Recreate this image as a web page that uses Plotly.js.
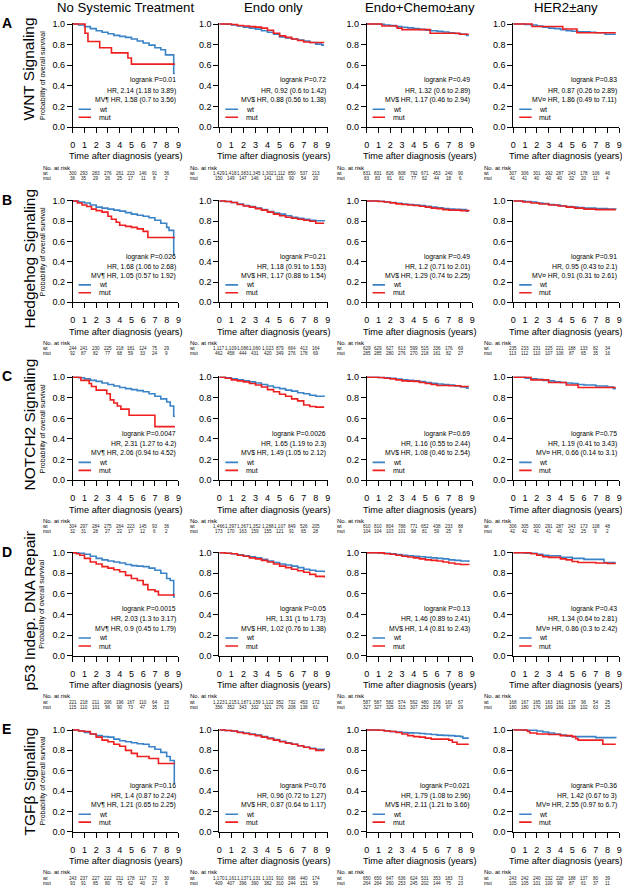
<!DOCTYPE html>
<html>
<head>
<meta charset="utf-8">
<script src="https://cdn.plot.ly/plotly-3.0.1.min.js"></script>
<style>
  body { margin: 0; background: #fff; }
  #km { width: 622px; height: 886px; }
</style>
</head>
<body>
<div id="km"></div>
<script>
// column / row headings
var colTitles = ['No Systemic Treatment', 'Endo only', 'Endo+Chemo±any', 'HER2±any'];
var rowLabels = ['WNT Signaling', 'Hedgehog Signaling', 'NOTCH2 Signaling', 'p53 Indep. DNA Repair', 'TGFβ Signaling'];
var panelLetters = ['A', 'B', 'C', 'D', 'E'];
var xTicks = [0, 1, 2, 3, 4, 5, 6, 7, 8, 9];
var riskTimes = [0, 1, 2, 3, 4, 5, 6, 7, 8];

// KM curves, [time (years), survival]
var A1_wt = [[0,1],[0.5,0.99],[1,0.975],[1.5,0.955],[2,0.935],[2.5,0.92],[3,0.905],[3.5,0.89],[4,0.88],[4.5,0.87],[5,0.855],[5.5,0.835],[6,0.815],[6.5,0.795],[7,0.77],[7.5,0.75],[7.9,0.70],[8.6,0.52],[8.7,0.52]];
var A1_mut = [[0,1],[1.05,0.91],[1.3,0.83],[2.3,0.77],[3.3,0.72],[4.7,0.67],[5.0,0.61],[8.7,0.61]];
var A2_wt = [[0,1],[0.5,0.997],[1,0.99],[1.5,0.98],[2,0.97],[2.5,0.96],[3,0.95],[3.5,0.935],[4,0.92],[4.5,0.90],[5,0.875],[5.5,0.865],[6,0.855],[6.5,0.845],[7,0.835],[7.5,0.82],[8,0.805],[8.5,0.795],[8.7,0.795]];
var A2_mut = [[0,1],[1,0.995],[1.5,0.985],[2,0.98],[2.5,0.975],[3,0.97],[3.5,0.96],[4,0.94],[4.5,0.91],[5,0.885],[5.5,0.87],[6,0.855],[6.5,0.84],[7,0.825],[7.5,0.82],[8.7,0.82]];
var A3_wt = [[0,1],[1,0.998],[1.5,0.99],[2,0.985],[2.5,0.975],[3,0.968],[3.5,0.962],[4,0.955],[4.5,0.948],[5,0.94],[5.5,0.935],[6,0.928],[6.5,0.922],[7,0.915],[7.5,0.908],[8,0.90],[8.5,0.89],[8.7,0.89]];
var A3_mut = [[0,1],[1.3,0.98],[2.6,0.96],[3.0,0.945],[5.4,0.91],[7.9,0.90],[8.7,0.90]];
var A4_wt = [[0,1],[1,0.995],[1.5,0.99],[2,0.98],[2.5,0.97],[3,0.96],[3.5,0.955],[4,0.945],[4.5,0.935],[5,0.93],[5.5,0.925],[6.5,0.92],[7,0.915],[7.8,0.90],[8.7,0.90]];
var A4_mut = [[0,1],[1.6,0.976],[4.2,0.952],[5.4,0.915],[8.7,0.915]];

var B1_wt = [[0,1],[0.5,0.99],[1,0.98],[1.5,0.96],[2,0.94],[2.5,0.93],[3,0.92],[3.5,0.91],[4,0.90],[4.5,0.885],[5,0.87],[5.5,0.86],[6,0.85],[6.5,0.835],[7,0.81],[7.5,0.78],[8,0.74],[8.2,0.71],[8.6,0.47],[8.7,0.47]];
var B1_mut = [[0,1],[0.4,0.98],[0.8,0.96],[1.2,0.945],[1.6,0.92],[2,0.905],[2.5,0.89],[3,0.85],[3.3,0.82],[3.7,0.79],[4,0.76],[4.5,0.75],[5,0.74],[5.5,0.725],[6,0.70],[6.4,0.64],[8.7,0.64]];
var B2_wt = [[0,1],[0.5,0.995],[1,0.985],[1.5,0.97],[2,0.955],[2.5,0.945],[3,0.93],[3.5,0.915],[4,0.895],[4.5,0.88],[5,0.87],[5.5,0.855],[6,0.84],[6.5,0.83],[7,0.82],[7.5,0.81],[8,0.805],[8.7,0.80]];
var B2_mut = [[0,1],[0.5,0.995],[1,0.985],[1.5,0.965],[2,0.95],[2.5,0.94],[3,0.925],[3.5,0.91],[4,0.89],[4.5,0.87],[5,0.855],[5.5,0.84],[6,0.83],[6.5,0.82],[7,0.81],[7.5,0.80],[8,0.78],[8.7,0.78]];
var B3_wt = [[0,1],[1,0.998],[1.5,0.99],[2,0.985],[2.5,0.978],[3,0.97],[3.5,0.965],[4,0.96],[4.5,0.955],[5,0.948],[5.5,0.94],[6,0.932],[6.5,0.925],[7,0.92],[7.5,0.918],[8,0.915],[8.5,0.90],[8.7,0.90]];
var B3_mut = [[0,1],[1,0.995],[1.5,0.99],[2,0.982],[2.5,0.972],[3,0.965],[3.5,0.96],[4,0.955],[4.5,0.948],[5,0.94],[5.5,0.93],[6,0.925],[6.5,0.915],[7,0.91],[8,0.905],[8.7,0.90]];
var B4_wt = [[0,1],[1,0.995],[1.5,0.99],[2,0.98],[2.5,0.975],[3,0.965],[3.5,0.96],[4,0.95],[4.5,0.945],[5,0.94],[5.5,0.935],[6,0.93],[7,0.925],[8,0.92],[8.7,0.915]];
var B4_mut = [[0,1],[0.8,0.99],[1.5,0.98],[2.2,0.97],[3,0.96],[3.8,0.95],[4.5,0.94],[5.2,0.93],[6,0.92],[7,0.915],[8.7,0.915]];

var C1_wt = [[0,1],[0.5,0.995],[1,0.985],[1.5,0.97],[2,0.96],[2.5,0.945],[3,0.93],[3.5,0.915],[4,0.90],[4.5,0.89],[5,0.88],[5.5,0.87],[6,0.86],[6.5,0.84],[7,0.815],[7.5,0.79],[8,0.76],[8.3,0.72],[8.6,0.62],[8.7,0.62]];
var C1_mut = [[0,1],[0.7,0.97],[1.4,0.94],[1.6,0.91],[2,0.875],[2.9,0.84],[3.2,0.78],[3.5,0.75],[3.8,0.72],[4.1,0.69],[4.8,0.63],[7.0,0.52],[8.7,0.52]];
var C2_wt = [[0,1],[0.5,0.995],[1,0.985],[1.5,0.975],[2,0.965],[2.5,0.955],[3,0.945],[3.5,0.93],[4,0.915],[4.5,0.90],[5,0.89],[5.5,0.875],[6,0.865],[6.5,0.85],[7,0.84],[7.5,0.825],[8,0.815],[8.7,0.81]];
var C2_mut = [[0,1],[0.5,0.99],[1,0.975],[1.5,0.965],[2,0.955],[2.5,0.94],[3,0.925],[3.5,0.905],[4,0.88],[4.5,0.86],[5,0.835],[5.5,0.815],[6,0.79],[6.5,0.77],[7,0.73],[7.5,0.715],[8,0.71],[8.7,0.71]];
var C3_wt = [[0,1],[1,0.998],[1.5,0.995],[2,0.99],[2.5,0.982],[3,0.975],[3.5,0.97],[4,0.965],[4.5,0.958],[5,0.95],[5.5,0.942],[6,0.935],[6.5,0.93],[7,0.925],[7.5,0.915],[8,0.905],[8.5,0.895],[8.7,0.895]];
var C3_mut = [[0,1],[1,0.998],[1.5,0.99],[2,0.985],[2.5,0.975],[3,0.965],[3.5,0.963],[4,0.96],[4.5,0.95],[5,0.94],[5.5,0.93],[6,0.92],[7,0.918],[8,0.91],[8.7,0.91]];
var C4_wt = [[0,1],[1,0.99],[1.5,0.985],[2,0.98],[2.5,0.97],[3,0.965],[3.5,0.955],[4,0.95],[4.5,0.945],[5,0.94],[5.5,0.93],[6,0.925],[7,0.915],[8,0.905],[8.5,0.89],[8.7,0.89]];
var C4_mut = [[0,1],[1.5,0.975],[3,0.95],[4.5,0.925],[5.5,0.90],[8.7,0.90]];

var D1_wt = [[0,1],[0.5,0.995],[1,0.985],[1.5,0.965],[2,0.945],[2.5,0.93],[3,0.92],[3.5,0.91],[4,0.90],[4.5,0.885],[5,0.875],[5.5,0.87],[6,0.865],[6.5,0.85],[7,0.83],[7.5,0.80],[8,0.75],[8.3,0.73],[8.6,0.57],[8.7,0.57]];
var D1_mut = [[0,1],[0.3,0.99],[0.6,0.975],[1,0.945],[1.5,0.91],[2,0.89],[2.5,0.865],[3,0.85],[3.5,0.835],[4,0.815],[4.5,0.78],[5,0.75],[5.5,0.73],[6,0.69],[6.4,0.64],[7,0.625],[7.3,0.59],[8.7,0.59]];
var D2_wt = [[0,1],[0.5,0.995],[1,0.99],[1.5,0.98],[2,0.97],[2.5,0.96],[3,0.95],[3.5,0.935],[4,0.92],[4.5,0.905],[5,0.89],[5.5,0.88],[6,0.87],[6.5,0.855],[7,0.84],[7.5,0.83],[8,0.82],[8.7,0.81]];
var D2_mut = [[0,1],[0.5,0.995],[1,0.99],[1.5,0.975],[2,0.965],[2.5,0.95],[3,0.94],[3.5,0.925],[4,0.91],[4.5,0.89],[5,0.87],[5.5,0.855],[6,0.84],[6.5,0.825],[7,0.81],[7.5,0.79],[8,0.77],[8.7,0.76]];
var D3_wt = [[0,1],[1,0.998],[1.5,0.995],[2,0.99],[2.5,0.982],[3,0.975],[3.5,0.97],[4,0.965],[4.5,0.96],[5,0.955],[5.5,0.95],[6,0.945],[6.5,0.94],[7,0.93],[7.5,0.925],[8,0.92],[8.7,0.91]];
var D3_mut = [[0,1],[1,0.998],[1.5,0.99],[2,0.985],[2.5,0.975],[3,0.965],[3.5,0.958],[4,0.95],[4.5,0.94],[5,0.93],[5.5,0.925],[6,0.92],[6.5,0.91],[7,0.90],[7.5,0.89],[8,0.885],[8.7,0.88]];
var D4_wt = [[0,1],[1,0.995],[2,0.985],[2.5,0.975],[3,0.97],[4,0.955],[5,0.945],[6,0.935],[7.7,0.905],[8.7,0.905]];
var D4_mut = [[0,1],[1.5,0.99],[2,0.975],[2.5,0.96],[3,0.955],[4,0.94],[4.5,0.93],[5,0.915],[5.5,0.905],[7,0.90],[8,0.895],[8.7,0.895]];

var E1_wt = [[0,1],[0.5,0.99],[1,0.975],[1.5,0.96],[2,0.945],[2.5,0.935],[3,0.93],[3.5,0.91],[4,0.895],[4.5,0.885],[5,0.875],[5.5,0.865],[6,0.86],[6.5,0.835],[7,0.81],[7.5,0.78],[8,0.74],[8.3,0.70],[8.65,0.48],[8.7,0.48]];
var E1_mut = [[0,1],[0.5,0.99],[1,0.985],[1.5,0.96],[2,0.93],[2.5,0.90],[3,0.885],[3.5,0.86],[4,0.84],[4.5,0.80],[5,0.77],[5.5,0.74],[6.5,0.72],[7.3,0.67],[8.7,0.67]];
var E2_wt = [[0,1],[0.5,0.995],[1,0.99],[1.5,0.98],[2,0.97],[2.5,0.96],[3,0.95],[3.5,0.935],[4,0.92],[4.5,0.905],[5,0.89],[5.5,0.875],[6,0.86],[6.5,0.845],[7,0.83],[7.5,0.82],[8,0.81],[8.7,0.80]];
var E2_mut = [[0,1],[0.5,0.995],[1,0.99],[1.5,0.975],[2,0.965],[2.5,0.955],[3,0.945],[3.5,0.93],[4,0.915],[4.5,0.90],[5,0.885],[5.5,0.87],[6,0.86],[6.5,0.845],[7,0.83],[7.5,0.815],[8,0.80],[8.7,0.80]];
var E3_wt = [[0,1],[1,0.998],[1.5,0.992],[2,0.985],[2.5,0.98],[3,0.975],[3.5,0.972],[4,0.97],[4.5,0.965],[5,0.96],[5.5,0.955],[6,0.95],[6.5,0.947],[7,0.945],[7.5,0.94],[8,0.935],[8.2,0.92],[8.7,0.92]];
var E3_mut = [[0,1],[1,0.998],[1.5,0.99],[2,0.985],[2.5,0.975],[3,0.96],[3.5,0.945],[4,0.935],[4.5,0.93],[5,0.92],[5.5,0.91],[7,0.90],[7.3,0.88],[7.7,0.86],[8.7,0.86]];
var E4_wt = [[0,1],[1,0.998],[2,0.99],[2.5,0.98],[3,0.97],[3.5,0.96],[4,0.95],[4.5,0.94],[5,0.935],[6,0.935],[7,0.925],[8,0.925],[8.7,0.92]];
var E4_mut = [[0,1],[1.2,0.985],[1.4,0.97],[2,0.96],[3,0.955],[4,0.945],[5,0.935],[5.3,0.915],[5.5,0.90],[7.6,0.86],[8.7,0.86]];

// numbers at risk at years 0..8
var A1_risk_wt = ['300','293','283','276','261','223','146','91','36'];
var A1_risk_mut = ['36','35','29','26','25','17','11','8','2'];
var A2_risk_wt = ['1,429','1,418','1,383','1,345','1,302','1,112','850','537','213'];
var A2_risk_mut = ['150','149','147','146','141','116','90','54','20'];
var A3_risk_wt = ['831','831','826','808','792','671','453','240','90'];
var A3_risk_mut = ['83','83','81','81','77','62','44','18','6'];
var A4_risk_wt = ['307','306','301','292','287','243','178','106','46'];
var A4_risk_mut = ['41','41','40','40','40','32','20','11','4'];
var B1_risk_wt = ['244','241','230','225','218','181','124','75','29'];
var B1_risk_mut = ['92','87','82','77','68','59','33','24','9'];
var B2_risk_wt = ['1,117','1,109','1,086','1,060','1,023','879','664','413','164'];
var B2_risk_mut = ['462','458','444','431','420','349','276','178','69'];
var B3_risk_wt = ['629','629','627','613','599','515','336','176','69'];
var B3_risk_mut = ['285','285','280','276','270','218','161','82','27'];
var B4_risk_wt = ['235','233','231','225','221','188','133','82','34'];
var B4_risk_mut = ['113','112','110','107','106','87','65','35','16'];
var C1_risk_wt = ['304','297','284','275','264','223','145','93','36'];
var C1_risk_mut = ['32','31','28','27','22','17','12','6','2'];
var C2_risk_wt = ['1,466','1,397','1,367','1,352','1,288','1,107','849','526','205'];
var C2_risk_mut = ['173','170','163','159','155','121','91','65','28'];
var C3_risk_wt = ['810','810','804','788','771','652','438','233','88'];
var C3_risk_mut = ['104','104','103','101','98','81','59','25','8'];
var C4_risk_wt = ['306','305','300','291','287','243','173','108','48'];
var C4_risk_mut = ['42','42','41','41','40','32','25','9','2'];
var D1_risk_wt = ['221','218','211','206','196','167','110','64','26'];
var D1_risk_mut = ['115','110','101','96','90','73','47','35','12'];
var D2_risk_wt = ['1,223','1,215','1,187','1,159','1,122','952','732','453','172'];
var D2_risk_mut = ['356','352','343','332','321','276','208','138','61'];
var D3_risk_wt = ['587','587','582','574','562','480','318','161','67'];
var D3_risk_mut = ['327','327','325','315','307','253','179','97','29'];
var D4_risk_wt = ['168','167','165','163','161','137','96','54','25'];
var D4_risk_mut = ['180','180','176','169','166','138','102','63','25'];
var E1_risk_wt = ['243','237','227','222','211','178','117','72','30'];
var E1_risk_mut = ['93','91','85','80','75','62','40','27','8'];
var E2_risk_wt = ['1,170','1,161','1,137','1,131','1,101','910','696','440','174'];
var E2_risk_mut = ['409','407','396','390','382','310','244','151','59'];
var E3_risk_wt = ['650','650','647','636','624','531','353','183','73'];
var E3_risk_mut = ['264','264','260','253','245','202','144','75','23'];
var E4_risk_wt = ['243','242','240','232','228','188','137','80','39'];
var E4_risk_mut = ['105','105','101','100','99','87','61','37','11'];

// logrank / HR text per panel
var A1_stats = ['logrank P=0.01', 'HR, 2.14 (1.18 to 3.89)', 'MV¶ HR, 1.58 (0.7 to 3.56)'];
var A2_stats = ['logrank P=0.72', 'HR, 0.92 (0.6 to 1.42)', 'MV$ HR, 0.88 (0.56 to 1.38)'];
var A3_stats = ['logrank P=0.49', 'HR, 1.32 (0.6 to 2.89)', 'MV$ HR, 1.17 (0.46 to 2.94)'];
var A4_stats = ['logrank P=0.83', 'HR, 0.87 (0.26 to 2.89)', 'MV¤ HR, 1.86 (0.49 to 7.11)'];
var B1_stats = ['logrank P=0.026', 'HR, 1.68 (1.06 to 2.68)', 'MV¶ HR, 1.05 (0.57 to 1.92)'];
var B2_stats = ['logrank P=0.21', 'HR, 1.18 (0.91 to 1.53)', 'MV$ HR, 1.17 (0.88 to 1.54)'];
var B3_stats = ['logrank P=0.49', 'HR, 1.2 (0.71 to 2.01)', 'MV$ HR, 1.29 (0.74 to 2.25)'];
var B4_stats = ['logrank P=0.91', 'HR, 0.95 (0.43 to 2.1)', 'MV¤ HR, 0.91 (0.31 to 2.61)'];
var C1_stats = ['logrank P=0.0047', 'HR, 2.31 (1.27 to 4.2)', 'MV¶ HR, 2.06 (0.94 to 4.52)'];
var C2_stats = ['logrank P=0.0026', 'HR, 1.65 (1.19 to 2.3)', 'MV$ HR, 1.49 (1.05 to 2.12)'];
var C3_stats = ['logrank P=0.69', 'HR, 1.16 (0.55 to 2.44)', 'MV$ HR, 1.08 (0.46 to 2.54)'];
var C4_stats = ['logrank P=0.75', 'HR, 1.19 (0.41 to 3.43)', 'MV¤ HR, 0.66 (0.14 to 3.1)'];
var D1_stats = ['logrank P=0.0015', 'HR, 2.03 (1.3 to 3.17)', 'MV¶ HR, 0.9 (0.45 to 1.79)'];
var D2_stats = ['logrank P=0.05', 'HR, 1.31 (1 to 1.73)', 'MV$ HR, 1.02 (0.76 to 1.38)'];
var D3_stats = ['logrank P=0.13', 'HR, 1.46 (0.89 to 2.41)', 'MV$ HR, 1.4 (0.81 to 2.43)'];
var D4_stats = ['logrank P=0.43', 'HR, 1.34 (0.64 to 2.81)', 'MV¤ HR, 0.86 (0.3 to 2.42)'];
var E1_stats = ['logrank P=0.16', 'HR, 1.4 (0.87 to 2.24)', 'MV¶ HR, 1.21 (0.65 to 2.25)'];
var E2_stats = ['logrank P=0.76', 'HR, 0.96 (0.72 to 1.27)', 'MV$ HR, 0.87 (0.64 to 1.17)'];
var E3_stats = ['logrank P=0.021', 'HR, 1.79 (1.08 to 2.96)', 'MV$ HR, 2.11 (1.21 to 3.66)'];
var E4_stats = ['logrank P=0.36', 'HR, 1.42 (0.67 to 3)', 'MV¤ HR, 2.55 (0.97 to 6.7)'];

var panels = [
  [A1_wt, A1_mut, A1_risk_wt, A1_risk_mut, A1_stats], [A2_wt, A2_mut, A2_risk_wt, A2_risk_mut, A2_stats],
  [A3_wt, A3_mut, A3_risk_wt, A3_risk_mut, A3_stats], [A4_wt, A4_mut, A4_risk_wt, A4_risk_mut, A4_stats],
  [B1_wt, B1_mut, B1_risk_wt, B1_risk_mut, B1_stats], [B2_wt, B2_mut, B2_risk_wt, B2_risk_mut, B2_stats],
  [B3_wt, B3_mut, B3_risk_wt, B3_risk_mut, B3_stats], [B4_wt, B4_mut, B4_risk_wt, B4_risk_mut, B4_stats],
  [C1_wt, C1_mut, C1_risk_wt, C1_risk_mut, C1_stats], [C2_wt, C2_mut, C2_risk_wt, C2_risk_mut, C2_stats],
  [C3_wt, C3_mut, C3_risk_wt, C3_risk_mut, C3_stats], [C4_wt, C4_mut, C4_risk_wt, C4_risk_mut, C4_stats],
  [D1_wt, D1_mut, D1_risk_wt, D1_risk_mut, D1_stats], [D2_wt, D2_mut, D2_risk_wt, D2_risk_mut, D2_stats],
  [D3_wt, D3_mut, D3_risk_wt, D3_risk_mut, D3_stats], [D4_wt, D4_mut, D4_risk_wt, D4_risk_mut, D4_stats],
  [E1_wt, E1_mut, E1_risk_wt, E1_risk_mut, E1_stats], [E2_wt, E2_mut, E2_risk_wt, E2_risk_mut, E2_stats],
  [E3_wt, E3_mut, E3_risk_wt, E3_risk_mut, E3_stats], [E4_wt, E4_mut, E4_risk_wt, E4_risk_mut, E4_stats]
];

// page geometry in pixels
var W = 622, H = 886;
var colPx = [[72.7, 178.4], [219.3, 327.8], [366.7, 472.3], [513.3, 619.3]];   // x of 0 and 9 yrs
var rowPx = [[24, 127], [201, 302.3], [377.3, 480], [552.7, 655.7], [730, 831.7]]; // y of 1.0 and 0.0
var rowLabelY = [69, 259, 425, 611, 782];
var YMAX = 1.01;
var BLUE = '#3a83c6', RED = '#ee1f1f';
var FONT = 'Liberation Sans, Arial, Helvetica, sans-serif';

function px(x) { return x / W; }
function py(y) { return 1 - y / H; }

var data = [];
var layout = {
  width: W, height: H,
  margin: {l: 0, r: 0, t: 0, b: 0},
  paper_bgcolor: '#fff', plot_bgcolor: '#fff',
  showlegend: false,
  font: {family: FONT, color: '#000'},
  annotations: [], shapes: []
};
var ann = layout.annotations;

function text(t, x, y, size, extra) {
  var a = {text: t, x: x, y: y, xref: 'paper', yref: 'paper', showarrow: false,
           xanchor: 'center', yanchor: 'middle', font: {family: FONT, size: size, color: '#000'}};
  for (var k in extra) a[k] = extra[k];
  ann.push(a);
}

panels.forEach(function (p, i) {
  var r = Math.floor(i / 4), c = i % 4, n = i + 1;
  var sfx = n === 1 ? '' : String(n);
  var xa = 'x' + sfx, ya = 'y' + sfx;
  var x0 = colPx[c][0], x1 = colPx[c][1];
  var yt = rowPx[r][0], yb = rowPx[r][1];
  var topPx = yt - (YMAX - 1) * (yb - yt);

  var axisBase = {showline: true, linecolor: '#000', linewidth: 1, ticks: 'outside', ticklen: 5,
                  tickwidth: 1, tickcolor: '#000', showgrid: false, zeroline: false, fixedrange: true,
                  tickfont: {family: FONT, size: 9, color: '#000'}};
  layout['xaxis' + sfx] = Object.assign({}, axisBase, {
    domain: [px(x0), px(x1)], range: [0, 9], anchor: ya, tickvals: xTicks, ticklabelstandoff: 4
  });
  layout['yaxis' + sfx] = Object.assign({}, axisBase, {
    domain: [py(yb), py(topPx)], range: [0, YMAX], anchor: xa,
    tickvals: [0, 0.2, 0.4, 0.6, 0.8, 1.0], tickformat: '.1f'
  });

  [[p[0], BLUE], [p[1], RED]].forEach(function (s) {
    data.push({
      x: s[0].map(function (d) { return d[0]; }),
      y: s[0].map(function (d) { return d[1]; }),
      xaxis: xa, yaxis: ya, type: 'scatter', mode: 'lines',
      line: {color: s[1], width: 1.6, shape: 'hv'}, hoverinfo: 'skip'
    });
  });

  // stats text, right aligned at the end of the axis
  [0.452, 0.352, 0.262].forEach(function (yy, j) {
    ann.push({text: p[4][j], x: 9, y: yy, xref: xa, yref: ya, showarrow: false,
              xanchor: 'right', yanchor: 'middle', font: {family: FONT, size: 6.8, color: '#000'}});
  });

  // legend
  [['wt', BLUE, 0.172], ['mut', RED, 0.094]].forEach(function (l) {
    layout.shapes.push({type: 'line', xref: xa, yref: ya, x0: 0.5, x1: 1.56, y0: l[2], y1: l[2],
                        line: {color: l[1], width: 1.6}});
    ann.push({text: l[0], x: 2.05, y: l[2], xref: xa, yref: ya, showarrow: false,
              xanchor: 'left', yanchor: 'middle', font: {family: FONT, size: 7, color: '#000'}});
  });

  // axis title
  text('Time after diagnosis (years)', px((x0 + x1) / 2), py(yb + 29.5), 9.2);

  // risk table
  text('No. at risk', px(x0 - 31.5), py(yb + 40.5), 6, {xanchor: 'left'});
  text('wt', px(x0 - 31.5), py(yb + 46.5), 4.6, {xanchor: 'left'});
  text('mut', px(x0 - 31.5), py(yb + 51.5), 4.6, {xanchor: 'left'});
  riskTimes.forEach(function (t, j) {
    ann.push({text: p[2][j], x: t, y: py(yb + 46.5), xref: xa, yref: 'paper', showarrow: false,
              xanchor: 'center', yanchor: 'middle', font: {family: FONT, size: 4.6, color: '#222'}});
    ann.push({text: p[3][j], x: t, y: py(yb + 51.5), xref: xa, yref: 'paper', showarrow: false,
              xanchor: 'center', yanchor: 'middle', font: {family: FONT, size: 4.6, color: '#222'}});
  });

  if (r === 0) text(colTitles[c], px((x0 + x1) / 2), py(8), 13.2);
  if (c === 0) {
    text(rowLabels[r], px(28.5), py(rowLabelY[r]), 15.5, {textangle: -90});
    text('Probability of overall survival', px(42.5), py((yt + yb) / 2), 7, {textangle: -90});
    text('<b>' + panelLetters[r] + '</b>', px(6.5), py(yt - 1), 14);
  }
});

Plotly.newPlot('km', data, layout, {staticPlot: true, displayModeBar: false});
</script>
</body>
</html>
